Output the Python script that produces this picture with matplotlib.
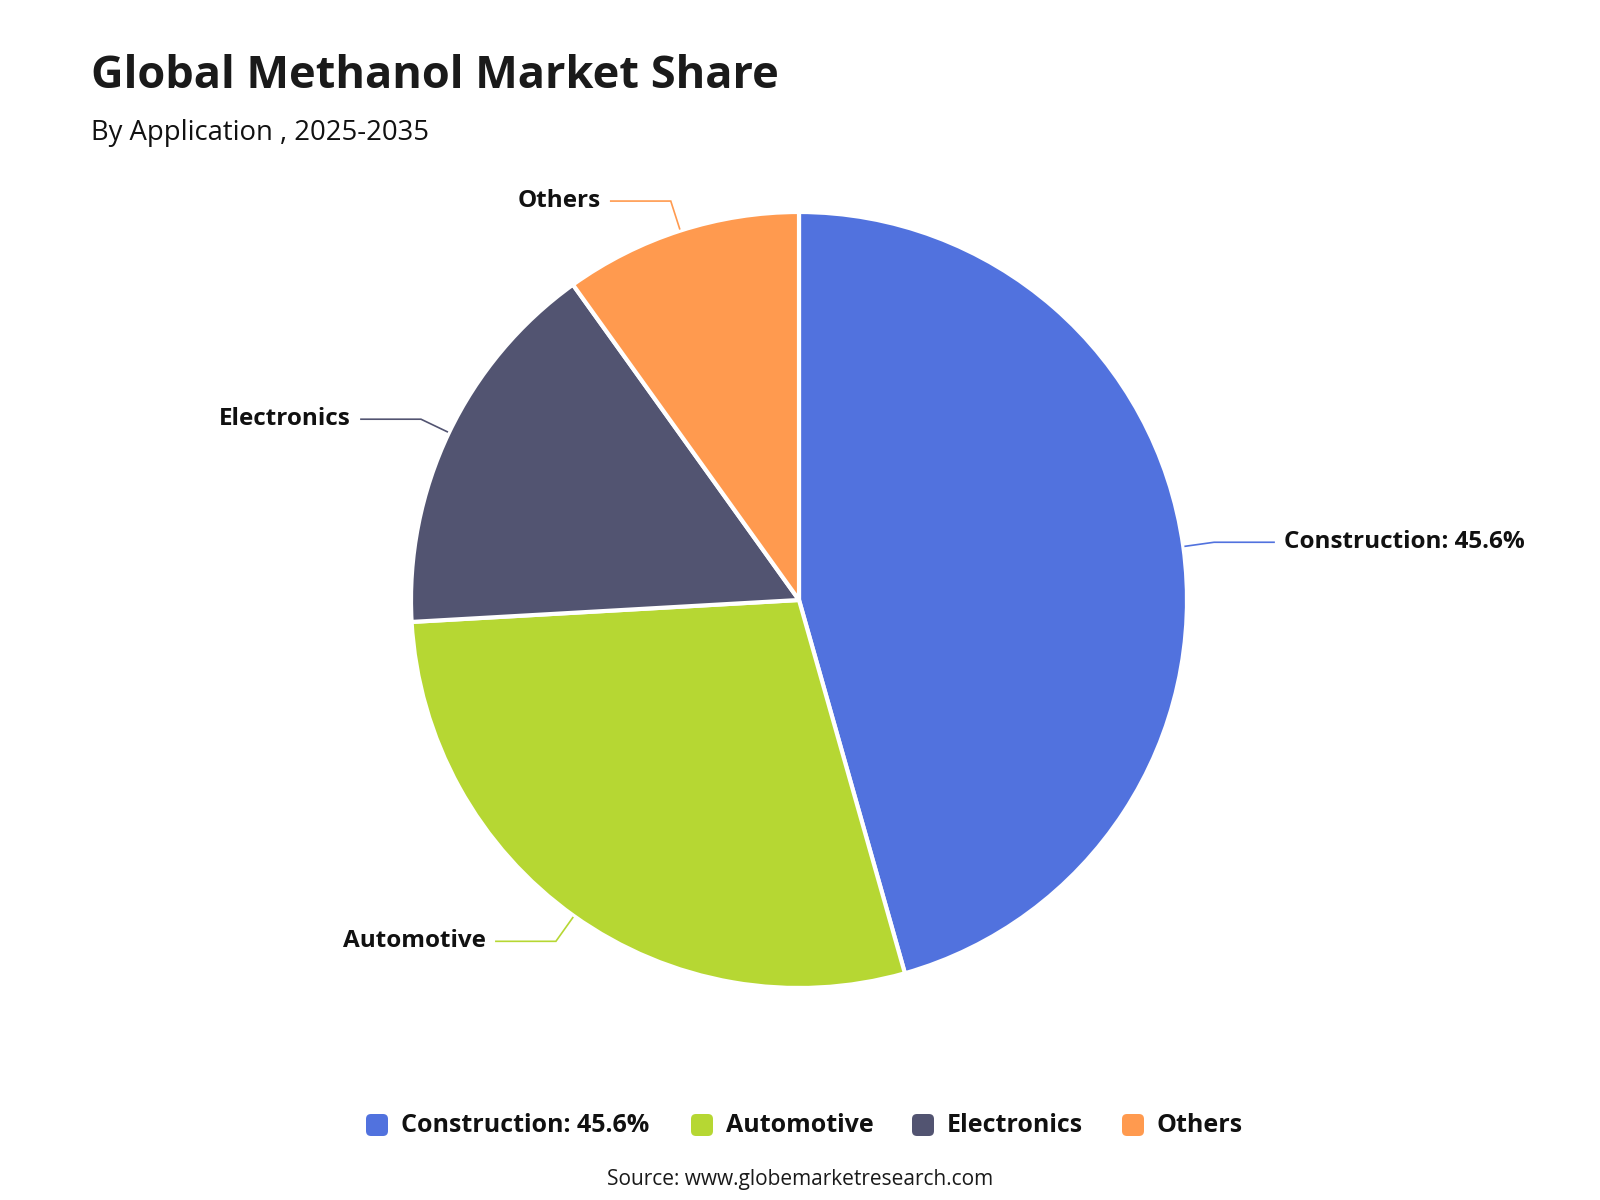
import matplotlib
matplotlib.use("Agg")
import matplotlib.pyplot as plt
from matplotlib.patches import FancyBboxPatch
import numpy as np

# data
categories = ["Construction", "Automotive", "Electronics", "Others"]
shares = [45.6, 28.5, 16.0, 9.9]
labels = ["Construction: 45.6%", "Automotive", "Electronics", "Others"]
colors = ["#5172DE", "#B6D733", "#525471", "#FF9A4F"]

plt.rcParams['font.family'] = ['Open Sans', 'DejaVu Sans']

fig = plt.figure(figsize=(16, 12), dpi=100)
ax = fig.add_axes([0, 0, 1, 1])

# axes in pixel units, y going up
cx, cy, r = 799, 600, 388
wedges, _ = ax.pie(shares, colors=colors, startangle=90, counterclock=False,
                   center=(cx, cy), radius=r,
                   wedgeprops=dict(edgecolor="white", linewidth=3, joinstyle="round"))
ax.set_xlim(0, 1600)
ax.set_ylim(0, 1200)
ax.set_aspect("equal")
ax.axis("off")

### leader lines + labels ================================================
for w, lab, col in zip(wedges, labels, colors):
    mid = np.deg2rad((w.theta1 + w.theta2) / 2)
    c, s = np.cos(mid), np.sin(mid)
    x0, y0 = cx + r * 1.005 * c, cy + r * 1.005 * s
    x1, y1 = cx + r * 1.08 * c, cy + r * 1.08 * s
    if c >= 0:
        x2 = x1 + 60
        ax.text(x2 + 10, y1, lab, ha="left", va="center", fontsize=17.5,
                fontweight="bold", color="#111111")
    else:
        x2 = x1 - 60
        ax.text(x2 - 10, y1, lab, ha="right", va="center", fontsize=17.5,
                fontweight="bold", color="#111111")
    ax.plot([x0, x1, x2], [y0, y1, y1], color=col, lw=1.2, solid_joinstyle="miter")

### titles ===============================================================
ax.text(91, 1112, "Global Methanol Market Share", fontsize=32.5, fontweight="bold",
        color="#1a1a1a", ha="left", va="baseline")
ax.text(91, 1060, "By Application , 2025-2035", fontsize=19.8, color="#111111",
        ha="left", va="baseline")

### legend ===============================================================
leg_y = 1200 - 1125
leg_x = [366, 691, 912, 1122]
for lx, lab, col in zip(leg_x, labels, colors):
    box = FancyBboxPatch((lx, leg_y - 11), 22, 22,
                         boxstyle="round,pad=0,rounding_size=5",
                         facecolor=col, edgecolor="none")
    ax.add_patch(box)
    ax.text(lx + 35, leg_y, lab, fontsize=18, fontweight="bold", color="#111111",
            ha="left", va="center")

ax.text(800, 1200 - 1180, "Source: www.globemarketresearch.com", fontsize=15,
        color="#1a1a1a", ha="center", va="center")

fig.savefig("out.png", dpi=100, facecolor="white")
